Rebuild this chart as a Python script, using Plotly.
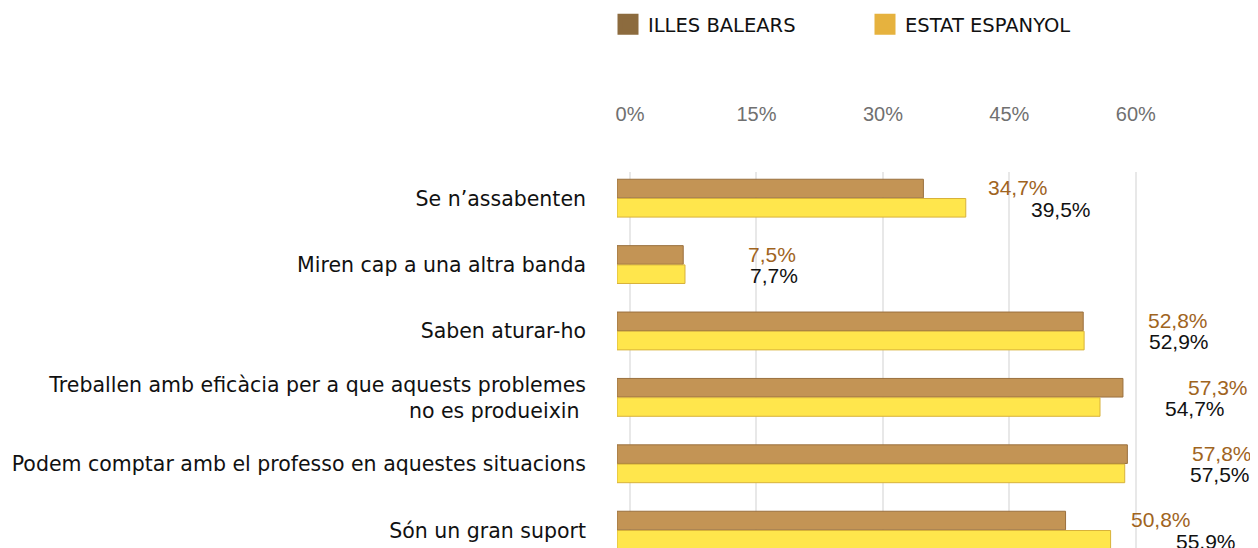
import plotly.graph_objects as go

categories = [
    "Se n’assabenten",
    "Miren cap a una altra banda",
    "Saben aturar-ho",
    "Treballen amb eficàcia per a que aquests problemes<br>no es produeixin ",
    "Podem comptar amb el professo en aquestes situacions",
    "Són un gran suport",
]
illes_balears = [34.7, 7.5, 52.8, 57.3, 57.8, 50.8]
estat_espanyol = [39.5, 7.7, 52.9, 54.7, 57.5, 55.9]
tick_values = [0, 15, 30, 45, 60]
tick_labels = ["0%", "15%", "30%", "45%", "60%"]

BROWN = "#C39455"
BROWN_EDGE = "#9A703E"
YELLOW = "#FFE64C"
YELLOW_EDGE = "#D8B23A"
BROWN_TXT = "#A0641E"
# page body has an 8px margin, so the figure is drawn 8px in from the window edge
W, H = 1250, 540
pos = list(range(len(categories)))

fig = go.Figure()
fig.add_trace(go.Bar(
    y=pos, x=illes_balears, orientation="h", xaxis="x2", yaxis="y",
    offset=-0.29, width=0.28, marker=dict(color=BROWN, line=dict(color=BROWN_EDGE, width=1)),
    showlegend=False, hoverinfo="skip"))
fig.add_trace(go.Bar(
    y=pos, x=estat_espanyol, orientation="h", xaxis="x2", yaxis="y",
    offset=0.0, width=0.28, marker=dict(color=YELLOW, line=dict(color=YELLOW_EDGE, width=1)),
    showlegend=False, hoverinfo="skip"))

# legend-only entries
fig.add_trace(go.Scatter(x=[None], y=[None], mode="markers", name="ILLES BALEARS",
                         marker=dict(symbol="square", size=30, color="#8C6B3E",
                                     line=dict(color="#8C6B3E", width=5))))
fig.add_trace(go.Scatter(x=[None], y=[None], mode="markers", name="ESTAT ESPANYOL",
                         marker=dict(symbol="square", size=30, color="#E6B23E",
                                     line=dict(color="#E6B23E", width=5))))

ann = []
for i, (a, b) in enumerate(zip(illes_balears, estat_espanyol)):
    ann.append(dict(x=a, y=i - 0.16, xref="x2", yref="y", text=f"{a:.1f}%".replace(".", ","),
                    showarrow=False, xanchor="left", yanchor="middle", xshift=63,
                    font=dict(family="Liberation Sans, Arial", size=21, color=BROWN_TXT)))
    ann.append(dict(x=b, y=i + 0.16, xref="x2", yref="y", text=f"{b:.1f}%".replace(".", ","),
                    showarrow=False, xanchor="left", yanchor="middle", xshift=63,
                    font=dict(family="Liberation Sans, Arial", size=21, color="#111111")))

x0 = 609      # bar baseline (figure px)
g0 = 622      # gridline zero (figure px)
top = 164
c0 = 190.5
step = 66.4
dom = [x0 / W, 1.0]
plot_h = H - top
fig.update_layout(
    width=W, height=H,
    margin=dict(l=0, r=0, t=top, b=0, autoexpand=False),
    paper_bgcolor="white", plot_bgcolor="white",
    barmode="overlay",
    showlegend=True,
    legend=dict(orientation="h", x=600 / W, y=(H + 3) / plot_h, xanchor="left", yanchor="top",
                yref="paper", xref="container", entrywidth=212,
                itemsizing="trace",
                font=dict(family="DejaVu Sans", size=19.5, color="#111111"),
                bgcolor="rgba(0,0,0,0)"),
    xaxis=dict(domain=dom, side="top", range=[(x0 - g0) / 8.43, (W - g0) / 8.43],
               tickvals=tick_values, ticktext=tick_labels, showgrid=True,
               gridcolor="#E8E8E8", gridwidth=2, zeroline=False, showline=False,
               ticks="", ticklabelstandoff=46, automargin=False,
               tickfont=dict(family="Liberation Sans, Arial", size=20, color="#707070")),
    xaxis2=dict(domain=dom, overlaying="x", range=[0, (W - x0) / 8.83], visible=False),
    yaxis=dict(range=[5 + (H - (c0 + 5 * step)) / step, -(c0 - top) / step],
               tickvals=pos, ticktext=categories, showgrid=False,
               zeroline=False, showline=False, ticks="", ticklabelstandoff=30,
               automargin=False,
               tickfont=dict(family="DejaVu Sans", size=20.5, color="#111111")),
    annotations=ann,
)

fig.write_html("out.html")
